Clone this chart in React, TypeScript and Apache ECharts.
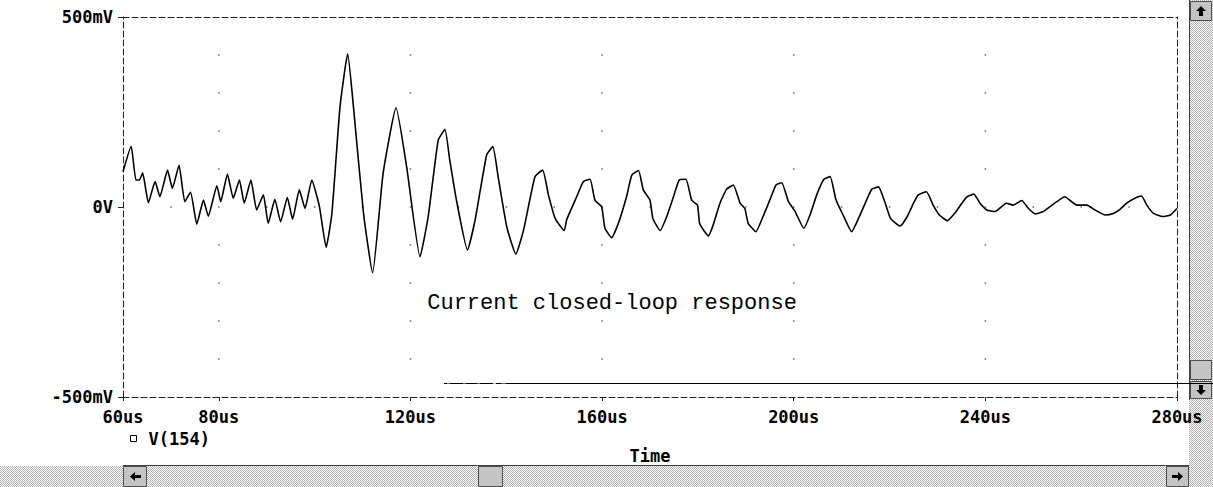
import React, { useEffect, useRef } from "react";
import * as echarts from "echarts";

// Waveform V(154): time in microseconds, voltage in millivolts
const timeUs = [
  60, 61.7, 62.7, 63.4, 64.1, 65.3, 66.7, 67.7, 69.3, 70.3, 71.7, 72.9, 74.1, 75.4, 76.8, 77.8,
  79.6, 80.4, 81.8, 83.0, 84.3, 85.3, 86.7, 87.9, 89.3, 90.3, 91.7, 92.9, 94.3, 95.4, 96.8, 98.0,
  99.4, 101.0, 102.4, 103.6, 105.3, 106.9, 108.1, 110.2, 112.1, 114.3, 117.0, 119.2, 122.0, 123.7,
  125.8, 127.2, 128.2, 129.6, 131.9, 133.5, 135.9, 137.2, 138.3, 140.1, 142.0, 143.6, 146.0, 147.6,
  148.8, 150.2, 152.1, 152.6, 154.7, 156.1, 157.5, 158.5, 159.9, 160.6, 162.0, 163.4, 165.1, 166.2,
  167.6, 168.6, 170.0, 170.6, 172.1, 173.5, 174.9, 176.1, 177.5, 178.7, 179.9, 180.4, 182.2, 183.2,
  184.6, 186.0, 187.4, 188.8, 189.8, 190.5, 192.1, 193.6, 195.0, 196.3, 197.5, 198.9, 200.3, 202.1,
  203.4, 204.8, 206.3, 207.6, 208.8, 210.3, 212.1, 213.7, 215.2, 216.3, 217.7, 219.0, 220.2, 222.2,
  223.6, 225.0, 226.0, 227.7, 229.1, 230.4, 232.1, 233.7, 235.1, 236.1, 237.6, 238.9, 240.3, 242.0,
  244.4, 245.8, 247.6, 249.0, 250.4, 252.1, 253.5, 254.9, 256.6, 258.0, 259.1, 261.2, 262.9, 265.0,
  266.7, 268.1, 269.5, 271.2, 272.6, 273.7, 275.1, 277.0, 278.6, 280,
];
const voltageMv = [
  93, 160, 71, 71, 90, 11, 67, 27, 97, 49, 110, 14, 39, -45, 18, -24,
  56, 14, 87, 23, 71, 10, 71, -8, 32, -43, 20, -39, 25, -32, 45, -4,
  71, 1, -106, -17, 264, 403, 264, -17, -173, 89, 261, 106, -131, -25,
  176, 204, 124, 18, -113, -34, 137, 159, 80, -52, -124, -61, 80, 97,
  32, -30, -62, -34, 27, 67, 73, 18, 1, -56, -81, -43, 27, 84,
  96, 45, 18, -30, -62, -25, 27, 71, 73, 18, 5, -45, -76, -47,
  10, 47, 58, 10, -4, -43, -65, -25, 18, 58, 64, 14, -12, -56,
  -21, 32, 73, 80, 20, -21, -65, -25, 18, 47, 53, 14, -30, -50,
  -27, 10, 32, 40, 5, -21, -36, -15, 10, 26, 34, 10, -8, -12,
  10, 5, 17, -4, -18, -12, 1, 14, 27, 14, 5, 5, -8, -21,
  -17, -6, 10, 23, 29, 5, -17, -25, -21, -4,
];

// Axis ticks / labels
const xLabelTicks = [60, 80, 120, 160, 200, 240, 280];
const yLabelTicks = [-500, 0, 500];

// Dotted grid
const gridColumnsUs = [80, 120, 160, 200, 240];
const gridRowsMv = [-400, -300, -200, -100, 0, 100, 200, 300, 400];
const zeroRowUs = [70, 90, 100, 110, 130, 140, 150, 170, 180, 190, 210, 220, 230, 250, 260, 270];

const seriesName = "V(154)";
const annotation = "Current closed-loop response";
const annotationAt = [123.5, -250];
const artifactAt = [127, -463];

const MONO = "'DejaVu Sans Mono', 'Liberation Mono', monospace";

function makePattern(): string {
  const c = document.createElement("canvas");
  c.width = 2;
  c.height = 2;
  const ctx = c.getContext("2d")!;
  ctx.fillStyle = "#fafafa";
  ctx.fillRect(0, 0, 2, 2);
  ctx.fillStyle = "#b4b4b4";
  ctx.fillRect(0, 0, 1, 1);
  ctx.fillRect(1, 1, 1, 1);
  return c.toDataURL();
}

export default function App() {
  const ref = useRef<HTMLDivElement>(null);
  useEffect(() => {
    document.body.style.margin = "0";
    const chart = echarts.init(ref.current!, null, { renderer: "svg" });
    const lineData = timeUs.map((t, i) => [t, voltageMv[i]]);
    const dots: number[][] = [];
    gridColumnsUs.forEach((x) => gridRowsMv.forEach((y) => dots.push([x, y])));
    zeroRowUs.forEach((x) => dots.push([x, 0]));

    const dashed = { color: "#222", width: 1, type: [6, 3] as any };
    const labelFont = { fontFamily: MONO, fontWeight: "bold" as const, fontSize: 17, color: "#000" };

    chart.setOption({
      animation: false,
      backgroundColor: "#fff",
      grid: { left: 123, right: 36, top: 17, bottom: 90, containLabel: false },
      legend: {
        left: 125,
        top: 425,
        icon: "rect",
        itemWidth: 6,
        itemHeight: 6,
        selectedMode: false,
        data: [{ name: seriesName, itemStyle: { color: "#fff", borderColor: "#000", borderWidth: 1 } }],
        textStyle: { ...labelFont, padding: [0, 0, 0, 7] },
      },
      xAxis: [
        {
          type: "value",
          min: 60,
          max: 280,
          interval: 20,
          position: "bottom",
          axisLine: { show: true, onZero: false, lineStyle: dashed },
          axisTick: { show: true, customValues: xLabelTicks, length: 4, lineStyle: { color: "#222" } },
          axisLabel: {
            customValues: xLabelTicks,
            formatter: (v: number) => `${v}us`,
            margin: 11,
            ...labelFont,
          },
          splitLine: { show: false },
          name: "Time",
          nameLocation: "middle",
          nameGap: 50,
          nameTextStyle: labelFont,
        },
        {
          type: "value",
          min: 60,
          max: 280,
          position: "top",
          axisLine: { show: true, onZero: false, lineStyle: dashed },
          axisTick: { show: false },
          axisLabel: { show: false },
          splitLine: { show: false },
        },
      ],
      yAxis: [
        {
          type: "value",
          min: -500,
          max: 500,
          interval: 500,
          position: "left",
          axisLine: { show: true, onZero: false, lineStyle: dashed },
          axisTick: { show: true, customValues: yLabelTicks, length: 5, lineStyle: { color: "#222" } },
          axisLabel: {
            customValues: yLabelTicks,
            formatter: (v: number) => (v === 0 ? "0V" : `${v}mV`),
            margin: 10,
            ...labelFont,
          },
          splitLine: { show: false },
        },
        {
          type: "value",
          min: -500,
          max: 500,
          position: "right",
          axisLine: { show: true, onZero: false, lineStyle: dashed },
          axisTick: { show: false },
          axisLabel: { show: false },
          splitLine: { show: false },
        },
      ],
      series: [
        {
          name: "grid",
          type: "scatter",
          data: dots,
          symbol: "rect",
          symbolSize: 1.6,
          itemStyle: { color: "#555" },
          silent: true,
          z: 1,
        },
        {
          name: seriesName,
          type: "line",
          data: lineData,
          showSymbol: false,
          symbol: "none",
          smooth: 0.15,
          lineStyle: { color: "#000", width: 1.6 },
          itemStyle: { color: "#000" },
          z: 3,
        },
      ],
    });

    const txt = chart.convertToPixel({ gridIndex: 0 }, annotationAt) as number[];
    const art = chart.convertToPixel({ gridIndex: 0 }, artifactAt) as number[];
    const pat = { image: makePattern(), repeat: "repeat" } as any;
    const btn = { fill: "#c4c4c4", stroke: "#505050", lineWidth: 1 };
    const arrow = { fill: "#000" };
    const ay = Math.round(art[1]) + 0.5;

    chart.setOption({
      graphic: [
        {
          type: "text",
          left: txt[0],
          top: txt[1] - 10,
          style: { text: annotation, fontFamily: "'Liberation Mono', 'DejaVu Sans Mono', monospace", fontSize: 22, fill: "#000" },
        },
        // horizontal scrollbar
        { type: "rect", shape: { x: 0, y: 466, width: 1213, height: 21 }, style: { fill: pat } },
        { type: "line", shape: { x1: 123, y1: 465.5, x2: 1189, y2: 465.5 }, style: { stroke: "#404040", lineWidth: 1 } },
        { type: "rect", shape: { x: 123.5, y: 466.5, width: 23, height: 20 }, style: btn },
        { type: "polygon", shape: { points: [[130, 476.5], [135, 472], [135, 475], [141, 475], [141, 478], [135, 478], [135, 481]] }, style: arrow },
        { type: "rect", shape: { x: 478.5, y: 466.5, width: 24, height: 20 }, style: btn },
        { type: "rect", shape: { x: 1166.5, y: 466.5, width: 22, height: 20 }, style: btn },
        { type: "polygon", shape: { points: [[1183, 476.5], [1178, 472], [1178, 475], [1172, 475], [1172, 478], [1178, 478], [1178, 481]] }, style: arrow },
        // vertical scrollbar
        { type: "rect", shape: { x: 1189, y: 0, width: 24, height: 466 }, style: { fill: pat } },
        { type: "line", shape: { x1: 1189.5, y1: 0, x2: 1189.5, y2: 400 }, style: { stroke: "#404040", lineWidth: 1 } },
        { type: "rect", shape: { x: 1190.5, y: 1.5, width: 21, height: 19 }, style: btn },
        { type: "polygon", shape: { points: [[1201, 6], [1206, 11], [1203, 11], [1203, 16], [1199, 16], [1199, 11], [1196, 11]] }, style: arrow },
        { type: "rect", shape: { x: 1190.5, y: 360.5, width: 21, height: 19 }, style: btn },
        { type: "rect", shape: { x: 1190.5, y: 381.5, width: 21, height: 17 }, style: btn },
        { type: "polygon", shape: { points: [[1201, 395], [1206, 390], [1203, 390], [1203, 385], [1199, 385], [1199, 390], [1196, 390]] }, style: arrow },
        // stray cursor line
        { type: "line", shape: { x1: art[0], y1: ay, x2: 1213, y2: ay }, style: { stroke: "#000", lineWidth: 1 }, z: 100 },
        { type: "line", shape: { x1: art[0] + 3, y1: ay, x2: art[0] + 6, y2: ay }, style: { stroke: "#2a2", lineWidth: 1 }, z: 101 },
        { type: "line", shape: { x1: art[0] + 19, y1: ay, x2: art[0] + 22, y2: ay }, style: { stroke: "#d33", lineWidth: 1 }, z: 101 },
        { type: "line", shape: { x1: art[0] + 33, y1: ay, x2: art[0] + 36, y2: ay }, style: { stroke: "#d33", lineWidth: 1 }, z: 101 },
        { type: "line", shape: { x1: art[0] + 49, y1: ay, x2: art[0] + 52, y2: ay }, style: { stroke: "#cc3", lineWidth: 1 }, z: 101 },
        { type: "line", shape: { x1: art[0] + 57, y1: ay, x2: art[0] + 62, y2: ay }, style: { stroke: "#d33", lineWidth: 1 }, z: 101 },
      ],
    });

    return () => chart.dispose();
  }, []);
  return <div ref={ref} style={{ position: "fixed", left: 0, top: 0, width: 1213, height: 487, background: "#fff" }} />;
}
